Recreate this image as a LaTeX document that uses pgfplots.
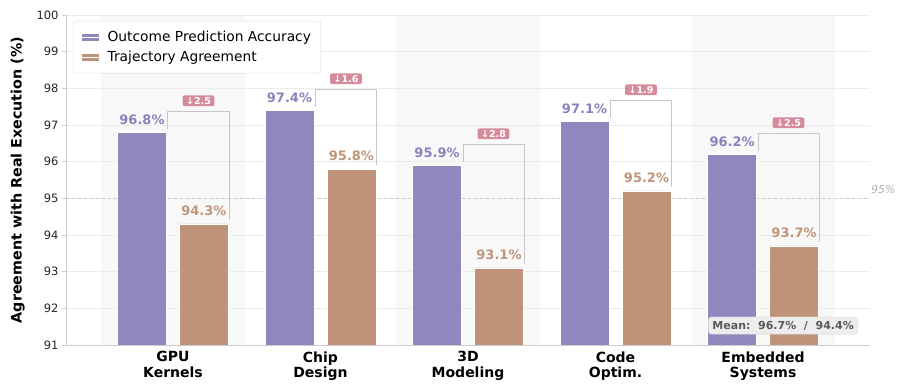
\documentclass[border=0pt]{standalone}
\usepackage{pgfplots}
\pgfplotsset{compat=1.18}
\usepackage{fontspec}
\setmainfont{DejaVu Sans}
\definecolor{cpurple}{HTML}{8F88BE}
\definecolor{cbrown}{HTML}{BE937A}
\definecolor{cptext}{HTML}{8A82BE}
\definecolor{cbtext}{HTML}{C0957A}
\definecolor{cbadge}{HTML}{D48B9B}
\definecolor{cband}{HTML}{F8F8F8}
\definecolor{cgrid}{HTML}{EBEBEB}
\definecolor{caxis}{HTML}{CCCCCC}
\definecolor{cbracket}{HTML}{C6C6C6}

% #1 x, #2 purple, #3 brown, #4 delta
\newcommand{\group}[4]{%
  \draw[cbracket, line width=0.9pt] (axis cs:#1-0.034,#2+0.1) -- (axis cs:#1-0.034,#2+0.58) -- (axis cs:#1+0.38,#2+0.58) -- (axis cs:#1+0.38,#3+0.12);
  \node[anchor=base, text=cptext, font=\fontsize{13}{15}\selectfont\bfseries, inner sep=0pt] at (axis cs:#1-0.21,#2+0.22) {#2\%};
  \node[anchor=base, text=cbtext, font=\fontsize{13}{15}\selectfont\bfseries, inner sep=0pt] at (axis cs:#1+0.21,#3+0.22) {#3\%};
  \node[fill=cbadge, text=white, rounded corners=2pt, font=\fontsize{9.5}{11}\selectfont\bfseries, inner xsep=3.5pt, inner ysep=1.8pt] at (axis cs:#1+0.173,#2+0.86) {↓#4};
}

\begin{document}
\begin{tikzpicture}
\begin{axis}[
  set layers,
  scale only axis, width=804pt, height=330pt,
  xmin=-0.725, xmax=4.725, ymin=91, ymax=100,
  axis x line*=bottom, axis y line*=left,
  axis line style={caxis, line width=0.8pt, -},
  xtick={0,1,2,3,4},
  xticklabels={{GPU\\Kernels},{Chip\\Design},{3D\\Modeling},{Code\\Optim.},{Embedded\\Systems}},
  x tick label style={align=center, font=\fontsize{14}{15.5}\selectfont\bfseries, text=black, yshift=1pt},
  major x tick style={draw=none},
  ytick={91,92,...,100},
  y tick label style={font=\fontsize{11.5}{13}\selectfont, text=black!85},
  /pgf/number format/assume math mode=true,
  major y tick style={caxis, line width=0.8pt},
  tick align=outside, major tick length=4pt,
  ymajorgrids, grid style={cgrid, line width=0.6pt},
  ylabel={Agreement with Real Execution (\%)},
  ylabel style={font=\fontsize{14.3}{16}\selectfont\bfseries, at={(axis description cs:-0.06,0.5)}, anchor=center},
  clip mode=individual,
  ybar, bar width=0.33,
  legend style={at={(0.0085,0.982)}, anchor=north west, draw=black!15, rounded corners=3pt, fill=white,
    font=\fontsize{13.8}{16}\selectfont, inner xsep=8pt, inner ysep=8pt, row sep=4pt},
  legend cell align=left,
  legend image code/.code={\fill[#1, sharp corners] (0pt,-4pt) rectangle (18pt,4pt); \path (0pt,0pt) -- (24pt,0pt);},
]
\begin{pgfonlayer}{axis background}
\fill[cband] (axis cs:-0.485,91) rectangle (axis cs:0.485,100);
\fill[cband] (axis cs:1.515,91) rectangle (axis cs:2.485,100);
\fill[cband] (axis cs:3.515,91) rectangle (axis cs:4.485,100);
\end{pgfonlayer}
\draw[caxis, dashed, line width=0.8pt] (axis cs:-0.725,95) -- (axis cs:4.725,95);

\addplot[fill=cpurple, draw=white, line width=0.6pt, bar shift=-0.21] coordinates {(0,96.8) (1,97.4) (2,95.9) (3,97.1) (4,96.2)};
\addlegendentry{Outcome Prediction Accuracy}
\addplot[fill=cbrown, draw=white, line width=0.6pt, bar shift=0.21] coordinates {(0,94.3) (1,95.8) (2,93.1) (3,95.2) (4,93.7)};
\addlegendentry{Trajectory Agreement}

\group{0}{96.8}{94.3}{2.5}
\group{1}{97.4}{95.8}{1.6}
\group{2}{95.9}{93.1}{2.8}
\group{3}{97.1}{95.2}{1.9}
\group{4}{96.2}{93.7}{2.5}

\node[anchor=south west, text=black!30, font=\fontsize{11}{13}\selectfont\itshape, inner xsep=1pt, inner ysep=4pt] at (axis cs:4.725,95) {95\%};
\node[fill=black!7, draw=black!15, rounded corners=3pt, text=black!65, font=\fontsize{11}{13}\selectfont\bfseries, inner xsep=4pt, inner ysep=4pt] at (axis cs:4.136,91.53) {Mean:\ \ 96.7\%\ \ /\ \ 94.4\%};
\end{axis}
\pgfresetboundingbox
\path (current axis.south west) ++(-66pt,-45pt) rectangle ++(900pt,390pt);
\end{tikzpicture}
\end{document}
